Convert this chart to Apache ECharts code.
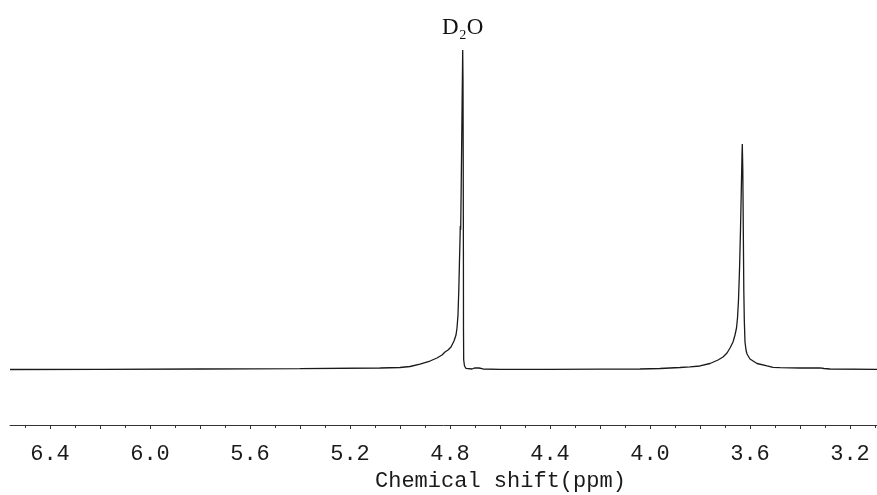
<!DOCTYPE html>
<html>
<head>
<meta charset="utf-8">
<script src="https://cdn.jsdelivr.net/npm/echarts@6/dist/echarts.min.js"></script>
<style>
  html, body { margin: 0; padding: 0; background: #ffffff; }
  #chart { width: 877px; height: 495px; }
</style>
</head>
<body>
<div id="chart"></div>
<script>
// Chemical shift (ppm) and relative intensity
const shift = [
  6.56, 6.2, 5.8, 5.4, 5.08, 5.0, 4.96, 4.92, 4.88, 4.852, 4.832, 4.82, 4.808, 4.796, 4.784,
  4.776, 4.772, 4.768, 4.7648, 4.762, 4.76, 4.7588, 4.7572, 4.7548, 4.752, 4.7492, 4.748,
  4.7472, 4.7464, 4.746, 4.7452, 4.742, 4.736, 4.728, 4.712, 4.70, 4.692, 4.684, 4.668,
  4.6, 4.4, 4.2, 4.04, 3.96, 3.88, 3.84, 3.8, 3.76, 3.728, 3.708, 3.692, 3.68, 3.668, 3.66,
  3.654, 3.65, 3.646, 3.642, 3.638, 3.6348, 3.632, 3.6308, 3.6288, 3.6268, 3.6248, 3.6228,
  3.62, 3.616, 3.612, 3.6, 3.572, 3.532, 3.508, 3.48, 3.4, 3.34, 3.32, 3.312, 3.304, 3.28, 3.092
];
const intensity = [
  0, 0.06, 0.16, 0.25, 0.47, 0.63, 0.94, 1.72, 2.66, 3.6, 4.54, 5.48, 6.1, 7.04, 8.92,
  10.8, 12.99, 17.06, 24.88, 34.27, 40.53, 44.91, 43.7, 60.0, 80.0, 100, 90.61,
  68.7, 37.4, 12.36, 2.97, 1.1, 0.38, 0.16, 0.16, 0.53, 0.78, 0.47, 0.16,
  0.06, 0.06, 0.09, 0.16, 0.31, 0.63, 0.85, 1.1, 1.88, 2.97, 3.91, 5.16, 6.73, 8.61, 10.8,
  12.99, 16.12, 21.75, 31.14, 43.66, 56.18, 67.14, 70.58, 62.44, 43.66, 24.88, 15.49,
  8.61, 6.1, 4.85, 3.29, 1.88, 1.1, 0.69, 0.56, 0.47, 0.47, 0.53, 0.94, 0.31, 0.16, 0.06
];
const tickLabels = [6.4, 6.0, 5.6, 5.2, 4.8, 4.4, 4.0, 3.6, 3.2];
const majorTicks = [6.4, 6.2, 6.0, 5.8, 5.6, 5.4, 5.2, 5.0, 4.8, 4.6, 4.4, 4.2, 4.0, 3.8, 3.6, 3.4, 3.2];
const minorTicks = [6.5, 6.3, 6.1, 5.9, 5.7, 5.5, 5.3, 5.1, 4.9, 4.7, 4.5, 4.3, 4.1, 3.9, 3.7, 3.5, 3.3, 3.1];
const peakLabel = { shift: 4.7492, intensity: 100, text: 'D\u2082O' };
const axisTitle = 'Chemical shift(ppm)';

const data = shift.map((s, i) => [s, intensity[i]]);

const chart = echarts.init(document.getElementById('chart'), null, { renderer: 'canvas' });
const monoFont = '"Liberation Mono", "DejaVu Sans Mono", monospace';
const serifFont = '"Liberation Serif", "DejaVu Serif", serif';
const xRange = { min: 3.092, max: 6.56 };

chart.setOption({
  animation: false,
  backgroundColor: '#ffffff',
  grid: { left: 10, right: 0, top: 50, bottom: 70, containLabel: false },
  xAxis: [
    {
      type: 'value', min: xRange.min, max: xRange.max, inverse: true, position: 'bottom',
      splitLine: { show: false },
      axisLine: { show: true, onZero: false, lineStyle: { color: '#333333', width: 1 } },
      axisTick: { show: true, inside: false, length: 4, customValues: majorTicks,
                  lineStyle: { color: '#333333', width: 1 } },
      axisLabel: { show: true, customValues: tickLabels, margin: 18,
                   formatter: v => v.toFixed(1),
                   color: '#1a1a1a', fontSize: 22, fontFamily: monoFont }
    },
    {
      type: 'value', min: xRange.min, max: xRange.max, inverse: true, position: 'bottom',
      splitLine: { show: false },
      axisLine: { show: false, onZero: false },
      axisTick: { show: true, inside: false, length: 3, customValues: minorTicks,
                  lineStyle: { color: '#333333', width: 1 } },
      axisLabel: { show: false }
    }
  ],
  yAxis: {
    type: 'value', min: -17.37, max: 100, show: false,
    splitLine: { show: false }
  },
  series: [{
    type: 'line',
    xAxisIndex: 0,
    data: data,
    showSymbol: false,
    symbol: 'none',
    lineStyle: { color: '#1a1a1a', width: 1.3 },
    markPoint: {
      symbol: 'circle', symbolSize: 0,
      label: {
        show: true, position: 'top', distance: 11,
        formatter: peakLabel.text,
        fontSize: 23, fontFamily: serifFont, color: '#111111'
      },
      data: [{ coord: [peakLabel.shift, peakLabel.intensity] }]
    }
  }],
  graphic: [{
    type: 'text', left: 375, top: 470,
    style: { text: axisTitle, fontSize: 22, fontFamily: monoFont, fill: '#1a1a1a' }
  }]
});
</script>
</body>
</html>
